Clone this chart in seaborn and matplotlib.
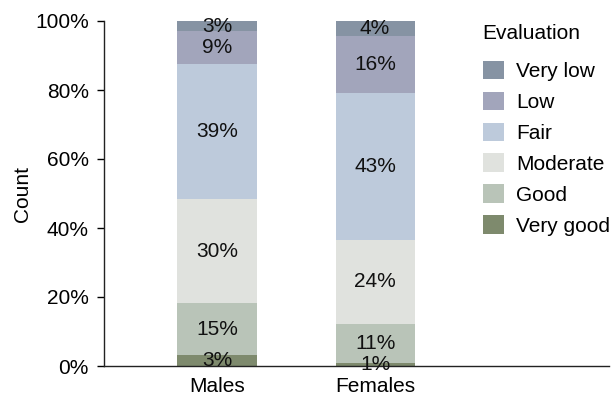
import matplotlib.pyplot as plt
import matplotlib.ticker as tik
import seaborn as sns
import pandas as pd
import numpy as np
from matplotlib.patches import Patch

#### data (percent of respondents)
groups = ["Males", "Females"]
levels = ["Very good", "Good", "Moderate", "Fair", "Low", "Very low"]
males = [3.2, 15.0, 30.1, 39.3, 9.4, 3.0]
females = [1.0, 11.2, 24.4, 42.6, 16.4, 4.4]
colors = ["#7e8a6d", "#b9c4b8", "#e0e2de", "#bdcadb", "#a2a5bb", "#8693a3"]

sns.set_style("ticks")
plt.rcParams['font.family'] = ['Liberation Sans', 'DejaVu Sans']
plt.rcParams['text.color'] = 'black'
plt.rcParams['axes.labelcolor'] = 'black'
plt.rcParams['xtick.color'] = 'black'
plt.rcParams['ytick.color'] = 'black'

fs = 15

df = pd.DataFrame({"Males": males, "Females": females}, index=levels)
cum = df.cumsum()

fig = plt.figure(figsize=(6.16, 3.98), dpi=100)
ax = fig.add_axes([104/616, 1-366/398, 505/616, 345/398])

# draw cumulative bars from the top down so each one hides the next
for i in range(len(levels)-1, -1, -1):
    lev = levels[i]
    sns.barplot(x=groups, y=cum.loc[lev, groups].values, color=colors[i],
                width=0.5, saturation=1, ax=ax, linewidth=0)

# labels in the middle of each segment
for j, g in enumerate(groups):
    for i, lev in enumerate(levels):
        v = df.loc[lev, g]
        mid = cum.loc[lev, g] - v/2
        ax.text(j, mid, "%d%%" % round(v), ha="center", va="center",
                fontsize=fs, color="#111111")

ax.set_xlim(-0.715, 2.48)
ax.set_ylim(0, 100)
ax.yaxis.set_major_locator(tik.MultipleLocator(20))
ax.yaxis.set_major_formatter(tik.PercentFormatter(decimals=0))
ax.set_ylabel("Count", fontsize=fs, labelpad=2)
ax.set_xlabel("")
ax.tick_params(axis="y", labelsize=fs, length=5, width=1, pad=6)
ax.tick_params(axis="x", labelsize=fs, length=0, pad=8)
sns.despine(ax=ax)
for s in ["left", "bottom"]:
    ax.spines[s].set_linewidth(1.0)
    ax.spines[s].set_color("#222222")

handles = [Patch(facecolor=colors[i], edgecolor="none", label=levels[i])
           for i in range(len(levels)-1, -1, -1)]
leg = fig.legend(handles=handles, title="Evaluation", loc="upper left",
                 bbox_to_anchor=(464/616, 1-5/398), frameon=False,
                 fontsize=fs, title_fontsize=fs, handlelength=1.0,
                 handleheight=1.0, labelspacing=0.5, handletextpad=0.6)
leg._legend_box.align = "left"
leg._legend_box.sep = 13

plt.savefig("out.png", dpi=100)
